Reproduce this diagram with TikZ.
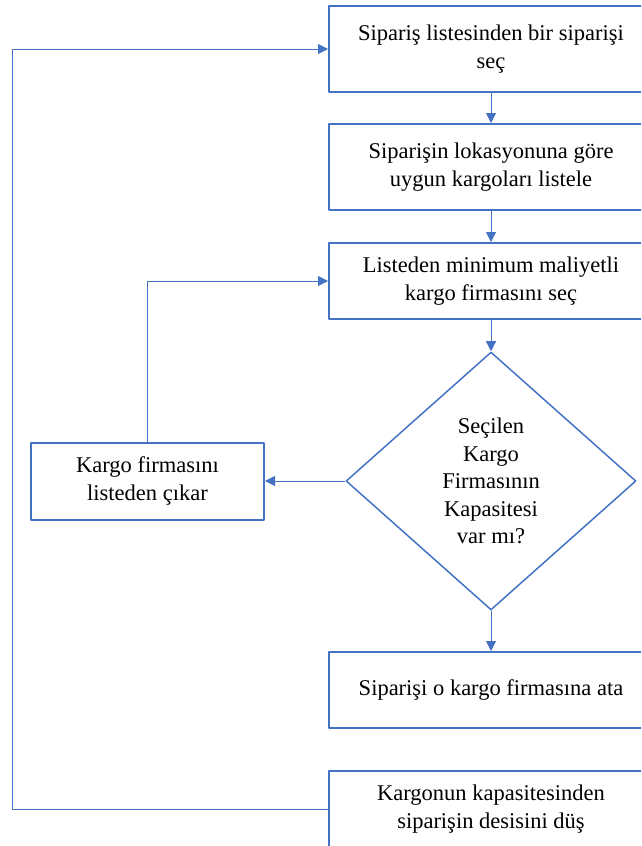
\documentclass[tikz,border=0pt]{standalone}
\usepackage{fontspec}
\setmainfont{Liberation Serif}
\usetikzlibrary{shapes.geometric,arrows.meta}
\definecolor{flowblue}{HTML}{4472C4}
\begin{document}
\begin{tikzpicture}[x=1pt, y=-1pt, line join=round, >={Triangle[length=10pt,width=10pt]}, font=\fontsize{22.5}{27.5}\selectfont]
			\tikzset{box/.style={draw=flowblue, line width=2pt, minimum width=324pt, align=center, inner sep=0pt},
			decision/.style={diamond, draw=flowblue, line width=1.5pt, minimum width=290pt, minimum height=258pt, inner sep=0pt, align=center},
			link/.style={flowblue, line width=1pt, ->}}
			\useasboundingbox (0,0) rectangle (641,846);
			\clip (0,0) rectangle (641,846);
			\node[box, minimum height=86pt] (secim) at (491,49) {Sipariş listesinden bir siparişi\\seç};
			\node[box, minimum height=86pt] (listele) at (491,167) {Siparişin lokasyonuna göre\\uygun kargoları listele};
			\node[box, minimum height=76pt] (minimum) at (491,281) {Listeden minimum maliyetli\\kargo firmasını seç};
			\node[decision] (kapasite) at (491,481) {Seçilen\\Kargo\\Firmasının\\Kapasitesi\\var mı?};
			\node[box, minimum width=233pt, minimum height=77pt] (cikar) at (147.5,481) {Kargo firmasını\\listeden çıkar};
			\node[box, minimum height=76pt] (ata) at (491,690) {Siparişi o kargo firmasına ata};
			\node[box, minimum height=76pt] (dus) at (491,809) {Kargonun kapasitesinden\\siparişin desisini düş};
			\coordinate (donus) at (12,809);
			%\draw[link] (ata) -- (dus);
			\draw[link] (secim) -- (listele);
			\draw[link] (listele) -- (minimum);
			\draw[link] (minimum) -- (kapasite);
			\draw[link] (kapasite) -- (ata);
			\draw[link] (kapasite.west) -- (cikar.east);
			\draw[link] (cikar.north) |- (minimum.west);
			\draw[link] (dus.west) -- (donus) |- (secim.west);
	\end{tikzpicture}
\end{document}
